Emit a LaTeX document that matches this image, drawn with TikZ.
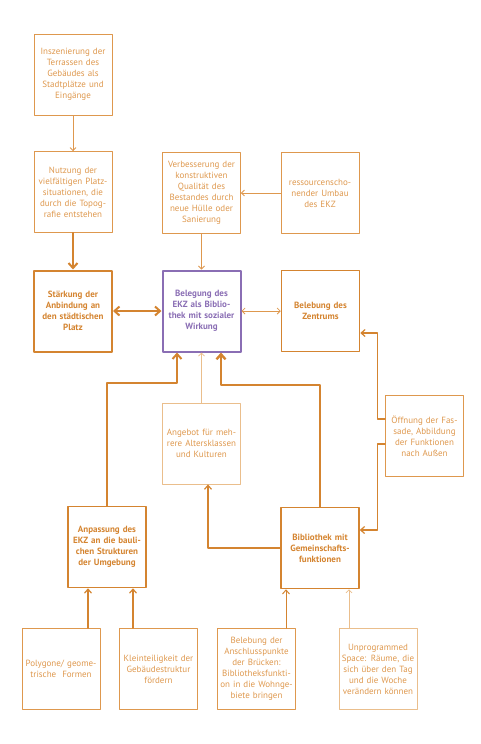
\documentclass[tikz,border=0pt]{standalone}
\usepackage{fontspec}
\setmainfont{PT Sans}
\usepackage{xcolor}
\usetikzlibrary{arrows.meta}

\definecolor{ekzorange}{RGB}{212,132,48}
\definecolor{ekzlight}{RGB}{222,152,78}
\definecolor{ekzpale}{RGB}{234,190,140}
\definecolor{ekzpurple}{RGB}{138,110,180}

\begin{document}
\begin{tikzpicture}[x=1pt, y=-1pt, line cap=round, line join=round,
		box/.style={draw, minimum width=78pt, minimum height=81pt, inner sep=0pt,
			text width=78pt, align=center, font=\fontsize{9}{11}\selectfont},
		lightbox/.style={box, draw=ekzlight, text=ekzlight, line width=0.8pt},
		palebox/.style={box, draw=ekzpale, text=ekzlight, line width=0.8pt},
		strongbox/.style={box, draw=ekzorange, text=ekzorange, line width=1.5pt, font=\fontsize{9}{11}\selectfont\bfseries},
		mainbox/.style={box, draw=ekzpurple, text=ekzpurple, line width=2pt, font=\fontsize{9}{11}\selectfont\bfseries},
		thinarrow/.style={draw=ekzlight, line width=0.8pt, -{Straight Barb[length=3pt, width=6pt]}},
		midarrow/.style={draw=ekzorange, line width=1.2pt, -{Straight Barb[length=4pt, width=7pt]}},
		fatarrow/.style={draw=ekzorange, line width=2pt, -{Straight Barb[length=5pt, width=9pt]}}]
		
		\useasboundingbox (0,0) rectangle (480,744);
		
		% Upper row
		\node[lightbox] (insz) at (73,74.5) {Inszenierung der\\Terrassen des\\Gebäudes als\\Stadtplätze und\\Eingänge};
		\node[lightbox] (nutz) at (73,192) {Nutzung der\\vielfältigen Platz-\\situationen, die\\durch die Topog-\\rafie entstehen};
		\node[lightbox] (verb) at (201.5,193) {Verbesserung der\\konstruktiven\\Qualität des\\Bestandes durch\\neue Hülle oder\\Sanierung};
		\node[lightbox] (ress) at (320,193) {ressourcenscho-\\nender Umbau\\des EKZ};
		
		% Middle row with the central goal
		\node[strongbox, line width=2pt] (staerk) at (73,311) {Stärkung der\\Anbindung an\\den städtischen\\Platz};
		\node[mainbox] (beleg) at (201.5,311) {Belegung des\\EKZ als Biblio-\\thek mit sozialer\\Wirkung};
		\node[strongbox] (zentr) at (320.5,311) {Belebung des\\Zentrums};
		
		% Lower part
		\node[lightbox] (oeff) at (424.5,436) {Öffnung der Fas-\\sade, Abbildung\\der Funktionen\\nach Außen};
		\node[palebox] (angeb) at (201.5,443.5) {Angebot für meh-\\rere Altersklassen\\und Kulturen};
		\node[strongbox] (anpass) at (107,547) {Anpassung des\\EKZ an die bauli-\\chen Strukturen\\der Umgebung};
		\node[strongbox] (biblio) at (320,548) {Bibliothek mit\\Gemeinschafts-\\funktionen};
		
		% Bottom row
		\node[lightbox] (poly) at (61,669) {Polygone/ geome-\\trische\ \ Formen};
		\node[lightbox] (klein) at (158.5,669) {Kleinteiligkeit der\\Gebäudestruktur\\fördern};
		\node[lightbox] (bruck) at (256.5,669) {Belebung der\\Anschlusspunkte\\der Brücken:\\Bibliotheksfunkti-\\on in die Wohnge-\\biete bringen};
		\node[palebox] (unprog) at (378,669) {Unprogrammed\\Space: Räume, die\\sich über den Tag\\und die Woche\\verändern können};
		
		% Bends of the connectors
		\coordinate (knickA) at (177,383);
		\coordinate (knickB) at (221,385);
		\coordinate (knickC) at (208,548);
		
		% Connectors in the upper part
		\draw[thinarrow] (insz) -- (nutz);
		\draw[fatarrow] (nutz) -- (staerk);
		\draw[thinarrow] (ress) -- (verb);
		\draw[thinarrow] (verb) -- (beleg);
		\draw[fatarrow, {Straight Barb[length=5pt, width=9pt]}-{Straight Barb[length=5pt, width=9pt]}] (staerk) -- (beleg);
		\draw[thinarrow, {Straight Barb[length=3pt, width=6pt]}-{Straight Barb[length=3pt, width=6pt]}] (beleg) -- (zentr);
		
		% Connectors into the central box
		\draw[fatarrow] (anpass.north) |- (knickA) -- (knickA |- beleg.south);
		\draw[thinarrow, draw=ekzpale] (angeb) -- (beleg);
		\draw[fatarrow, line width=2.4pt] (biblio.north) |- (knickB) -- (knickB |- beleg.south);
		
		% Connectors of the library box
		\draw[midarrow] (biblio.west) -- (knickC) -- (knickC |- angeb.south);
		\draw[midarrow] ([yshift=17pt]oeff.west) -- ++(-8,0) |- ([yshift=-22pt]zentr.east);
		\draw[midarrow] ([yshift=-8pt]oeff.west) -- ++(-8,0) |- ([yshift=18pt]biblio.east);
		
		% Connectors from the bottom row
		\draw[midarrow] ([xshift=27pt]poly.north) -- ([xshift=27pt]poly.north |- anpass.south);
		\draw[midarrow] ([xshift=-25.5pt]klein.north) -- ([xshift=-25.5pt]klein.north |- anpass.south);
		\draw[midarrow, line width=1pt] ([xshift=29.5pt]bruck.north) -- ([xshift=29.5pt]bruck.north |- biblio.south);
		\draw[thinarrow, draw=ekzpale] ([xshift=-29pt]unprog.north) -- ([xshift=-29pt]unprog.north |- biblio.south);
		
	\end{tikzpicture}
\end{document}
